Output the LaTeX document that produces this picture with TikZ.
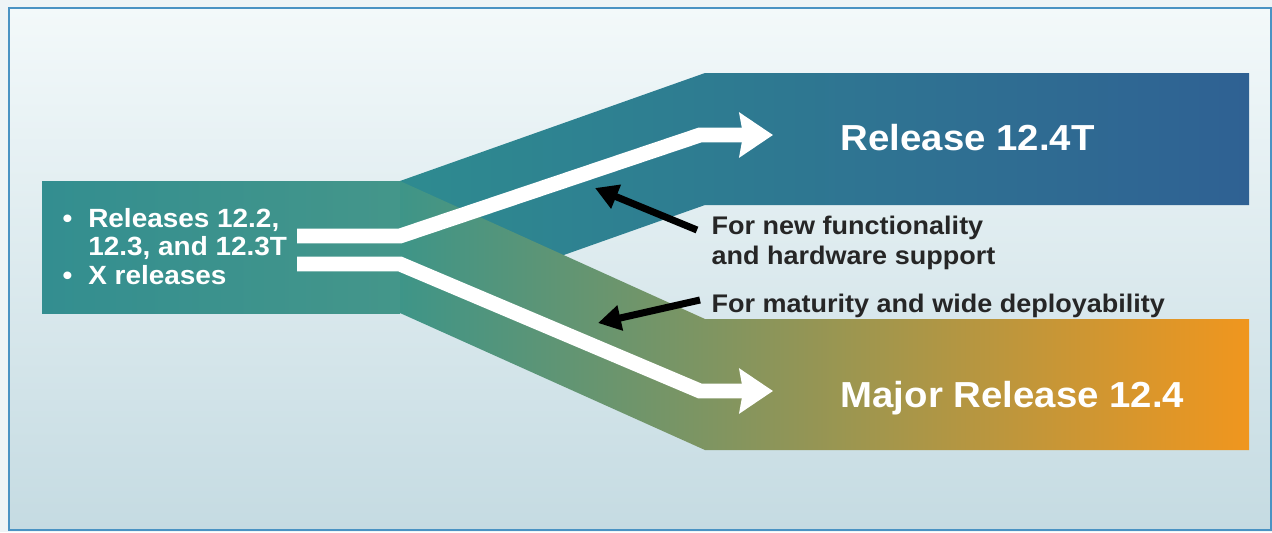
\documentclass[tikz,border=0pt]{standalone}
\usepackage{fontspec}
\setmainfont{Liberation Sans}[FakeStretch=1.06]
\usetikzlibrary{arrows.meta}

\definecolor{bgout}{HTML}{EEF4F6}
\definecolor{bgtop}{HTML}{F3F9FA}
\definecolor{bgbot}{HTML}{C5DBE2}
\definecolor{frame}{HTML}{4A93C3}
\definecolor{oldleft}{HTML}{338E90}
\definecolor{oldright}{HTML}{44968A}
\definecolor{tleft}{HTML}{2E8B90}
\definecolor{tright}{HTML}{2F6193}
\definecolor{mleft}{HTML}{3E9588}
\definecolor{mmid}{HTML}{8A9957}
\definecolor{mright}{HTML}{F0961E}

\begin{document}
\begin{tikzpicture}[x=0.02cm, y=-0.02cm, thick,
  flow/.style={white, line width=8.5pt, -{Stealth[length=19pt,width=25pt,inset=2pt]}},
  pointer/.style={black, line width=4pt, -{Triangle[length=13pt,width=14pt]}},
  caption/.style={inner sep=0pt, anchor=base west, text=black!85,
    font=\bfseries\fontsize{14.5pt}{17.6pt}\selectfont},
  title/.style={inner sep=0pt, anchor=base west, text=white,
    font=\bfseries\fontsize{20.6pt}{24pt}\selectfont}]

\useasboundingbox (0,0) rectangle (1272,532);

% background and frame
\fill[color=bgout] (0,0) rectangle (1272,532);
\shade[top color=bgtop, bottom color=bgbot] (9,8) rectangle (1271,530);
\draw[color=frame, line width=1.2pt] (9,8) rectangle (1271,530);

% old trains
\shade[left color=oldleft, right color=oldright] (42,181) rectangle (400,313);

% T train (upper band)
\shade[left color=tleft, right color=tright]
  (400,181) -- (705,73) -- (1249,73) -- (1249,205) -- (705,205) -- (400,313) -- cycle;

% mainline (lower band), lies over the upper one
\shade[left color=mleft, middle color=mmid, right color=mright]
  (400,181) -- (705,319) -- (1249,319) -- (1249,450) -- (705,450) -- (400,313) -- cycle;

\coordinate (inT) at (297,236);
\coordinate (forkT) at (400,236);
\coordinate (bendT) at (700,135);
\coordinate (outT) at (773,135);

\coordinate (inM) at (297,264);
\coordinate (forkM) at (400,264);
\coordinate (bendM) at (700,391);
\coordinate (outM) at (773,391);

\draw[flow] (inT) -- (forkT) -- (bendT) -- (outT);
\draw[flow] (inM) -- (forkM) -- (bendM) -- (outM);

\node (oldrel) at (62,227) [inner sep=0pt, anchor=base west, text=white,
  font=\bfseries\fontsize{15pt}{16.5pt}\selectfont]
  {\begin{tabular}[t]{@{}l@{\hspace{9pt}}l@{}}
   \textbullet & Releases 12.2,\\
               & 12.3, and 12.3T\\
   \textbullet & X releases
   \end{tabular}};

\node (trel) at (840,150) [title] {Release 12.4T};
\node (mrel) at (840,407) [title] {Major Release 12.4};

\node (newtxt) at (711,234) [caption]
  {\begin{tabular}[t]{@{}l@{}}For new functionality\\and hardware support\end{tabular}};
\node (mattxt) at (711,312) [caption] {For maturity and wide deployability};

\coordinate (hitT) at (595,188);
\coordinate (hitM) at (598,323);

\draw[pointer] ([shift={(-14,-4)}]newtxt.base west) -- (hitT);
\draw[pointer] ([shift={(-11,-12)}]mattxt.base west) -- (hitM);

%\draw (forkT) circle[radius=3];
%\draw (forkM) circle[radius=3];

\end{tikzpicture}
\end{document}
